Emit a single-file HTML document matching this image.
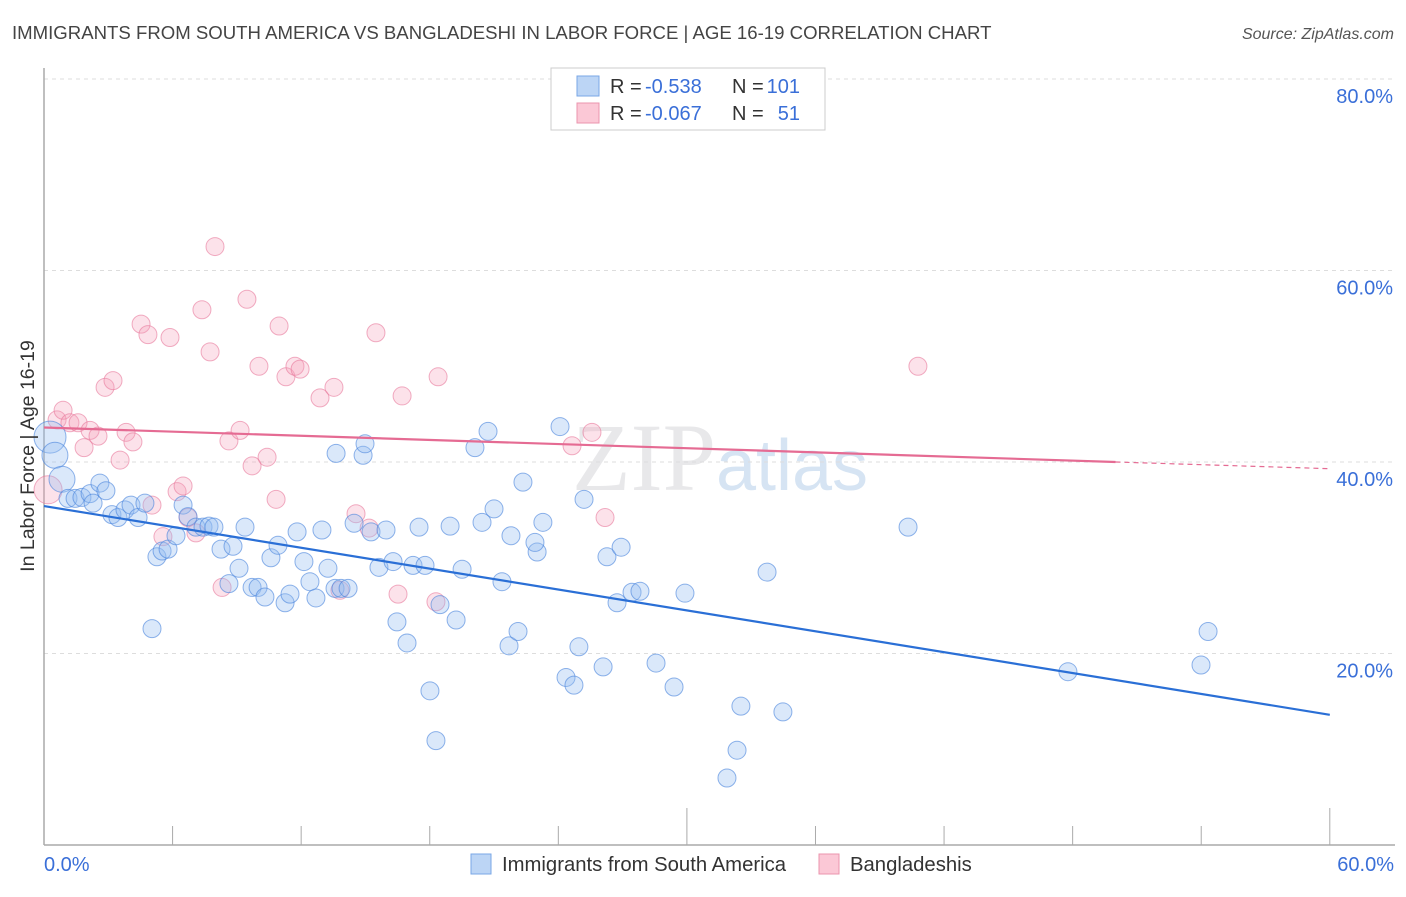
<!DOCTYPE html>
<html><head><meta charset="utf-8"><style>
body{margin:0;background:#fff;font-family:"Liberation Sans",sans-serif;}
</style></head><body>
<svg width="1406" height="892" xmlns="http://www.w3.org/2000/svg" font-family="Liberation Sans, sans-serif">
<text x="12" y="39" font-size="18.6" fill="#444">IMMIGRANTS FROM SOUTH AMERICA VS BANGLADESHI IN LABOR FORCE | AGE 16-19 CORRELATION CHART</text>
<text x="1394" y="39" font-size="16" fill="#555" text-anchor="end" font-style="italic">Source: ZipAtlas.com</text>
<text x="720" y="490" font-size="96" fill="#e8e8ea" text-anchor="middle" font-family="Liberation Serif, serif">ZIP<tspan fill="#d6e4f3" font-family="Liberation Sans, sans-serif" font-size="72">atlas</tspan></text>
<g id="grid"></g>
<g id="axes"></g>
<g id="marks"></g>
<text transform="translate(34,456) rotate(-90)" font-size="19.5" fill="#333" text-anchor="middle">In Labor Force | Age 16-19</text>
<g>
<rect x="551" y="68" width="274" height="62" fill="#fff" stroke="#ccc"/>
<rect x="577" y="76" width="22" height="20" fill="#bcd5f5" stroke="#7aa7e6"/>
<rect x="577" y="103" width="22" height="20" fill="#fbc8d6" stroke="#eb94ae"/>
<text x="610" y="93" font-size="20" fill="#333">R =</text>
<text x="645" y="93" font-size="20" fill="#3a6fd8">-0.538</text>
<text x="732" y="93" font-size="20" fill="#333">N =</text>
<text x="800" y="93" font-size="20" fill="#3a6fd8" text-anchor="end">101</text>
<text x="610" y="120" font-size="20" fill="#333">R =</text>
<text x="645" y="120" font-size="20" fill="#3a6fd8">-0.067</text>
<text x="732" y="120" font-size="20" fill="#333">N =</text>
<text x="800" y="120" font-size="20" fill="#3a6fd8" text-anchor="end">51</text>
</g>
<g>
<rect x="471" y="854" width="20" height="20" fill="#bcd5f5" stroke="#7aa7e6"/>
<text x="502" y="871" font-size="20.3" fill="#333">Immigrants from South America</text>
<rect x="819" y="854" width="20" height="20" fill="#fbc8d6" stroke="#eb94ae"/>
<text x="850" y="871" font-size="20.3" fill="#333">Bangladeshis</text>
</g>
</svg>
<script>
const blueX=[0.28,0.51,0.84,1.12,1.45,1.77,2.15,2.29,2.61,2.89,3.17,3.45,3.78,4.06,4.39,4.71,5.04,5.27,5.51,5.79,6.16,6.49,6.72,7.09,7.42,7.70,7.93,8.26,8.63,8.82,9.10,9.38,9.71,9.99,10.31,10.59,10.92,11.25,11.48,11.81,12.13,12.41,12.69,12.97,13.25,13.58,13.86,14.19,14.47,13.63,14.89,14.98,15.26,15.63,15.96,16.29,16.47,16.94,17.22,17.50,17.78,18.01,18.29,18.48,18.95,19.23,19.51,20.11,20.44,20.72,21.00,21.37,21.70,21.79,22.12,22.35,23.01,22.91,23.28,24.08,24.36,24.73,24.96,25.20,26.09,26.27,26.74,26.93,27.44,27.81,28.56,29.40,29.91,31.87,32.34,32.52,33.74,34.48,40.32,47.78,53.99,54.32];
const blueY=[42.6,40.7,38.2,36.2,36.2,36.3,36.7,35.7,37.8,37.0,34.5,34.2,35.0,35.5,34.2,35.7,22.6,30.1,30.7,30.9,32.3,35.5,34.3,33.2,33.2,33.3,33.2,30.9,27.3,31.2,28.9,33.2,26.9,26.9,25.9,30.0,31.3,25.3,26.2,32.7,29.6,27.5,25.8,32.9,28.9,26.8,26.8,26.8,33.6,40.9,40.7,41.9,32.7,29.0,32.9,29.6,23.3,21.1,29.2,33.2,29.2,16.1,10.9,25.1,33.3,23.5,28.8,41.5,33.7,43.2,35.1,27.5,20.8,32.3,22.3,37.9,30.6,31.6,33.7,43.7,17.5,16.7,20.7,36.1,18.6,30.1,25.3,31.1,26.4,26.5,19.0,16.5,26.3,7.0,9.9,14.5,28.5,13.9,33.2,18.1,18.8,22.3];
const pinkX=[0.19,0.61,0.89,1.21,1.59,1.87,2.15,2.52,2.85,3.22,3.55,3.83,4.15,4.53,4.85,5.04,5.55,5.88,6.21,6.49,6.72,7.09,7.37,7.75,7.98,8.31,8.63,9.15,9.47,9.71,10.03,10.41,10.83,10.97,11.29,11.71,11.95,12.88,13.53,13.81,14.56,15.17,15.49,16.52,16.71,18.29,18.39,24.64,25.57,26.18,40.78];
const pinkY=[37.1,44.4,45.4,44.1,44.1,41.5,43.3,42.7,47.8,48.5,40.2,43.1,42.1,54.4,53.3,35.5,32.2,53.0,36.9,37.5,34.2,32.6,55.9,51.5,62.5,26.9,42.2,43.3,57.0,39.6,50.0,40.5,36.1,54.2,48.9,50.0,49.7,46.7,47.8,26.6,34.6,33.1,53.5,26.2,46.9,25.4,48.9,41.7,43.1,34.2,50.0];
const blueTrend=[35.4,13.6];
const pinkTrend=[43.6,40.0,39.3];
const yTicks=[20,40,60,80];
const yTickLabels=["20.0%","40.0%","60.0%","80.0%"];
const xTickLabels=["0.0%","60.0%"];

const NS="http://www.w3.org/2000/svg";
const sx=v=>44+v*21.43;
const sy=v=>845-v*9.575;
function mk(tag,attrs,parent){const e=document.createElementNS(NS,tag);for(const k in attrs)e.setAttribute(k,attrs[k]);parent.appendChild(e);return e;}
const grid=document.getElementById('grid'),axes=document.getElementById('axes'),marks=document.getElementById('marks');
yTicks.forEach((t,i)=>{
 const l=mk('line',{x1:44,x2:1395,y1:sy(t),y2:sy(t),stroke:'#ddd','stroke-dasharray':'4,4'},grid);
 
 
 const tx=mk('text',{x:1393,y:sy(t)+24,'font-size':20,fill:'#3a6fd8','text-anchor':'end'},axes);
 tx.textContent=yTickLabels[i];
 
 
});
const xa=mk('line',{x1:44,x2:1395,y1:845,y2:845,stroke:'#aaa','stroke-width':1.5},axes);


const ya=mk('line',{x1:44,x2:44,y1:68,y2:845,stroke:'#aaa','stroke-width':1.5},axes);


for(let i=0;i<=10;i++){
 const x=sx(i*6);
 const tk=mk('line',{x1:x,x2:x,y1:(i==5||i==10)?808:826,y2:845,stroke:'#aaa'},axes);
 
 
}
[[0,'start',44],[1,'end',1394]].forEach(([i,a,x])=>{
 const t=mk('text',{x:x,y:871,'font-size':20,fill:'#3a6fd8','text-anchor':a},axes);
 t.textContent=xTickLabels[i];
 
 
});
pinkX.forEach((v,i)=>{
 const c=mk('circle',{cx:sx(v),cy:sy(pinkY[i]),r:i==0?14:9,fill:'rgba(246,160,185,0.3)',stroke:'rgba(232,120,155,0.6)','stroke-width':1},marks);
 
 
});
blueX.forEach((v,i)=>{
 const c=mk('circle',{cx:sx(v),cy:sy(blueY[i]),r:i==0?16:(i<3?13:9),fill:'rgba(150,190,240,0.35)',stroke:'rgba(70,130,220,0.6)','stroke-width':1},marks);
 
 
});
const bl=mk('line',{x1:sx(0),y1:sy(blueTrend[0]),x2:sx(60),y2:sy(blueTrend[1]),stroke:'#2a6fd6','stroke-width':2.2},marks);


const pl=mk('line',{x1:sx(0),y1:sy(pinkTrend[0]),x2:sx(50),y2:sy(pinkTrend[1]),stroke:'#e56b93','stroke-width':2.2},marks);


const pd=mk('line',{x1:sx(50),y1:sy(pinkTrend[1]),x2:sx(60),y2:sy(pinkTrend[2]),stroke:'#e56b93','stroke-width':1.2,'stroke-dasharray':'5,4'},marks);


</script>
</body></html>
